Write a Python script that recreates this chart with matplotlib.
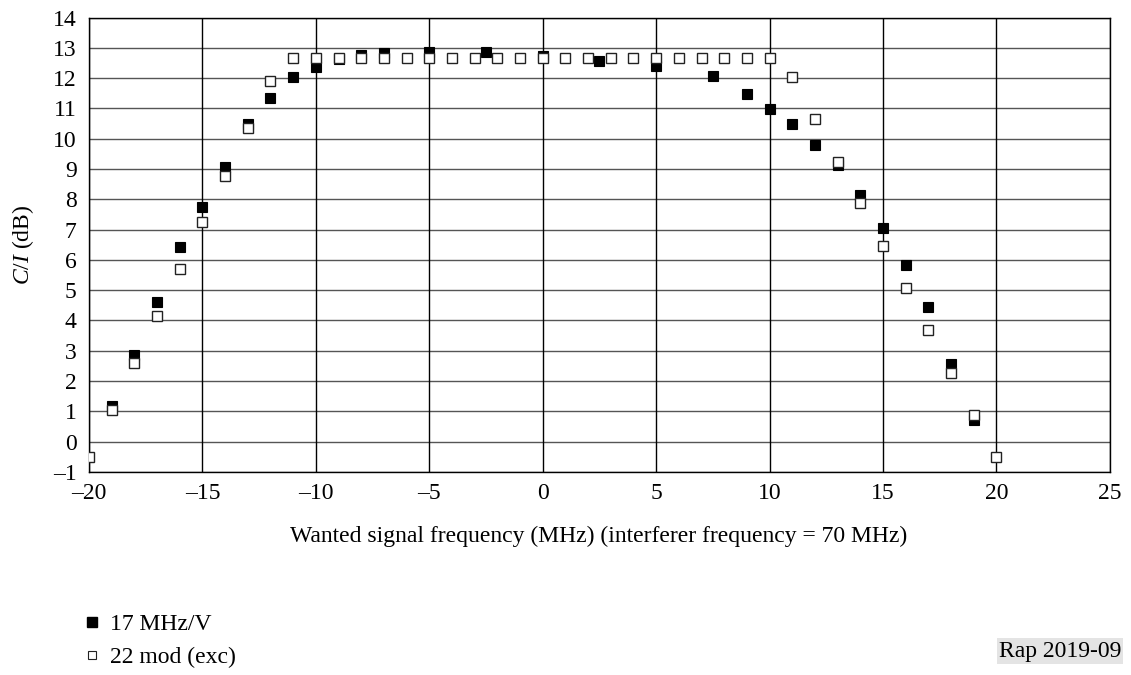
import matplotlib

matplotlib.use("Agg")
import matplotlib.pyplot as plt
from matplotlib.lines import Line2D

plt.rcParams["font.family"] = ["Liberation Serif", "DejaVu Serif"]
plt.rcParams["mathtext.fontset"] = "custom"
plt.rcParams["mathtext.rm"] = "Liberation Serif"
plt.rcParams["mathtext.it"] = "Liberation Serif:italic"

# 17 MHz/V (filled squares)
freq_17 = [-19, -18, -17, -16, -15, -14, -13, -12, -11, -10, -9, -8, -7, -5, -2.5,
           0, 2.5, 5, 7.5, 9, 10, 11, 12, 13, 14, 15, 16, 17, 18, 19]
ci_17 = [1.19, 2.86, 4.6, 6.42, 7.76, 9.08, 10.47, 11.34, 12.04, 12.37, 12.62, 12.76,
         12.84, 12.86, 12.86, 12.74, 12.58, 12.41, 12.08, 11.49, 10.99, 10.5, 9.79,
         9.14, 8.14, 7.04, 5.83, 4.44, 2.55, 0.72]

# 22 mod (exc) (open squares)
freq_22 = [-20, -19, -18, -17, -16, -15, -14, -13, -12, -11, -10, -9, -8, -7, -6, -5,
           -4, -3, -2, -1, 0, 1, 2, 3, 4, 5, 6, 7, 8, 9, 10, 11, 12, 13, 14, 15, 16,
           17, 18, 19, 20]
ci_22 = [-0.52, 1.05, 2.59, 4.13, 5.7, 7.24, 8.78, 10.35, 11.92, 12.66, 12.66, 12.66,
         12.66, 12.66, 12.66, 12.66, 12.66, 12.66, 12.66, 12.66, 12.66, 12.66, 12.66,
         12.66, 12.66, 12.66, 12.66, 12.66, 12.66, 12.66, 12.66, 12.04, 10.65, 9.23,
         7.86, 6.46, 5.06, 3.68, 2.27, 0.88, -0.52]

x_ticks = [-20, -15, -10, -5, 0, 5, 10, 15, 20, 25]
y_ticks = list(range(-1, 15))

FS = 17

fig = plt.figure(figsize=(11.31, 6.75), dpi=100)
ax = fig.add_axes([0.0787, 0.301, 0.9026, 0.673])

ax.set_xlim(-20, 25)
ax.set_ylim(-1, 14)
ax.set_xticks(x_ticks)
ax.set_xticklabels([str(t).replace("-", "\u2013") for t in x_ticks])
ax.set_yticks(y_ticks)
ax.set_yticklabels([str(t).replace("-", "\u2013") for t in y_ticks])
ax.tick_params(length=0, labelsize=FS)
ax.tick_params(axis="x", pad=8)
ax.tick_params(axis="y", pad=9)

for y in y_ticks:
    ax.axhline(y, color="#555555", linewidth=1.0, zorder=1)
for x in x_ticks:
    ax.axvline(x, color="black", linewidth=1.0, zorder=1)
for s in ax.spines.values():
    s.set_linewidth(1.0)

ax.plot(freq_17, ci_17, linestyle="none", marker="s", markersize=7.5,
        markerfacecolor="black", markeredgecolor="black", markeredgewidth=0.8, zorder=3)
ax.plot(freq_22, ci_22, linestyle="none", marker="s", markersize=7,
        markerfacecolor="white", markeredgecolor="#222222", markeredgewidth=1.0, zorder=4)

fig.text(23 / 1131, 1 - 245 / 675, "$\\it{C/I}$ (dB)", fontsize=FS, rotation=90,
         ha="center", va="center")
fig.text(599 / 1131, 1 - 536 / 675,
         "Wanted signal frequency (MHz) (interferer frequency = 70 MHz)",
         fontsize=FS, ha="center", va="center")

handles = [
    Line2D([], [], linestyle="none", marker="s", markersize=6.5,
           markerfacecolor="black", markeredgecolor="black"),
    Line2D([], [], linestyle="none", marker="s", markersize=6,
           markerfacecolor="white", markeredgecolor="#222222", markeredgewidth=0.8),
]
fig.legend(handles, ["17 MHz/V", "22 mod (exc)"], loc="upper left",
           bbox_to_anchor=(0.0748, 0.091), frameon=False, fontsize=FS,
           handlelength=0.6, handletextpad=0.47, labelspacing=0.5,
           borderaxespad=0, borderpad=0, bbox_transform=fig.transFigure)

fig.text(1121 / 1131, 1 - 651 / 675, "Rap 2019-09", ha="right", va="center", fontsize=FS,
         bbox=dict(facecolor="#e4e4e4", edgecolor="none", pad=1.5))

fig.savefig("out.png", dpi=100)
